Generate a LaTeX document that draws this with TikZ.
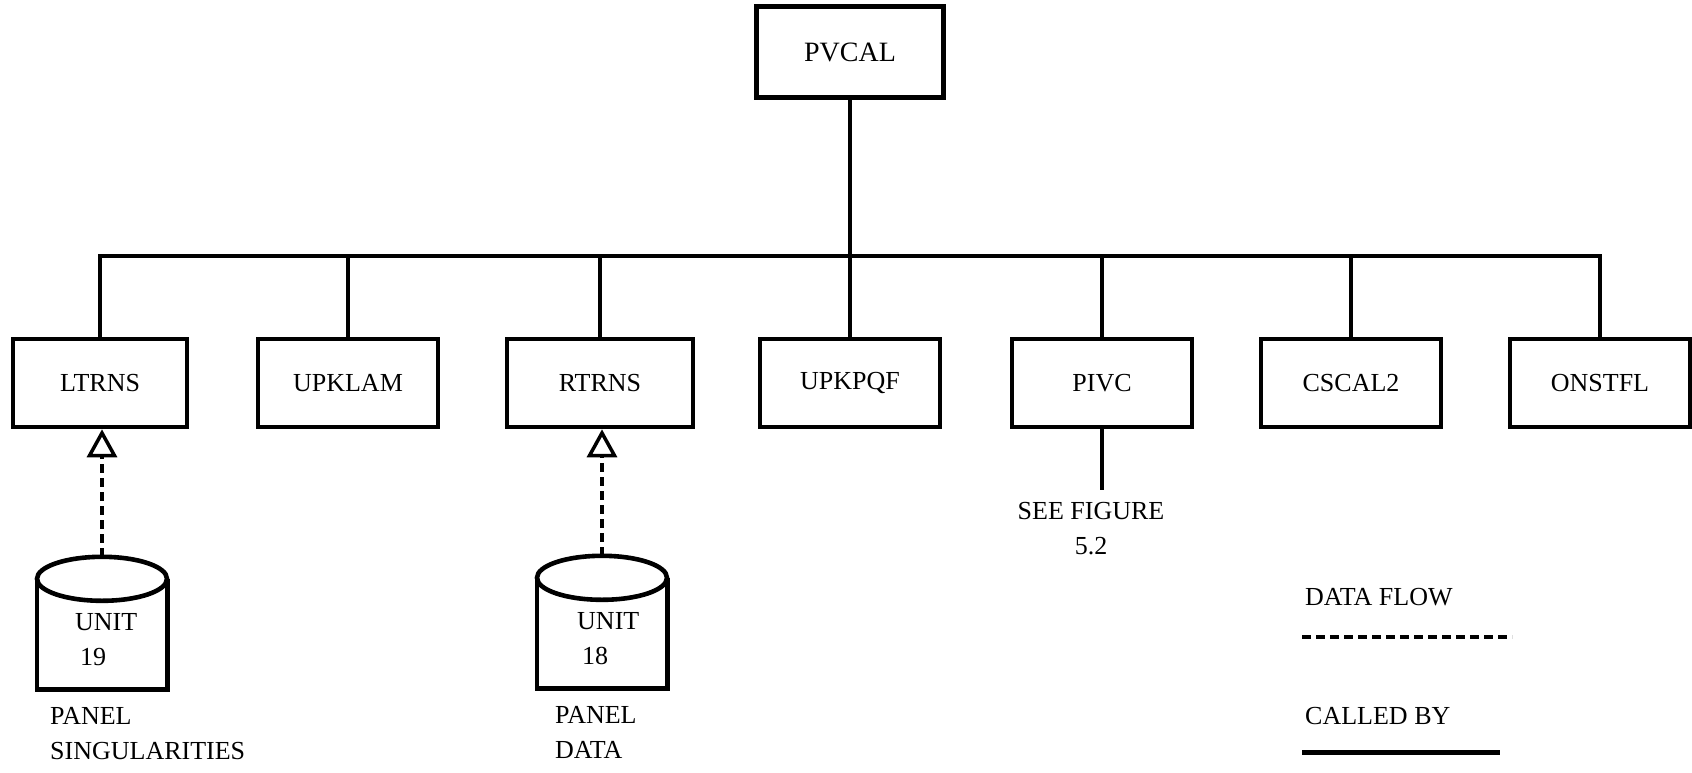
\documentclass[tikz,border=0pt]{standalone}
\usepackage{fontspec}
\setmainfont{Liberation Serif}
\usetikzlibrary{arrows.meta,calc}
\begin{document}
\begin{tikzpicture}[x=1pt,y=-1pt,
  font=\fontsize{26}{35}\selectfont,
  modbox/.style={draw,line width=4.6pt,minimum width=180pt,minimum height=88pt,inner sep=0pt},
  call/.style={line width=4.6pt},
  flow/.style={line width=4pt,dash pattern=on 9pt off 5pt},
  flowtip/.style={-{Triangle[open,width=30pt,length=28pt,line width=3.5pt]}},
  cyl/.style={minimum width=130pt,minimum height=132pt,inner sep=0pt},
  cylline/.style={line width=4.6pt},
  lbl/.style={inner sep=0pt,align=left,anchor=north west}]
\useasboundingbox (0,0) rectangle (1692,773);
% modules
\node[modbox,minimum width=187pt,minimum height=91pt,font=\fontsize{28}{34}\selectfont] (pvcal) at (850,52) {PVCAL};
\node[modbox,minimum width=174pt] (ltrns) at (100,383) {LTRNS};
\node[modbox] (upklam) at (348,383) {UPKLAM};
\node[modbox,minimum width=186pt] (rtrns) at (600,383) {RTRNS};
\node[modbox] (upkpqf) at (850,383) {UPKPQF};
\node[modbox] (pivc) at (1102,383) {PIVC};
\node[modbox] (cscal) at (1351,383) {CSCAL2};
\node[modbox] (onstfl) at (1600,383) {ONSTFL};
% call tree
\coordinate (bus) at (850,256);
\draw[call] (pvcal.south) -- (upkpqf.north);
\draw[call] (ltrns.north) |- (bus) -| (onstfl.north);
\draw[call] (upklam.north) -- (upklam.north |- bus);
\draw[call] (rtrns.north) -- (rtrns.north |- bus);
\draw[call] (pivc.north) -- (pivc.north |- bus);
\draw[call] (cscal.north) -- (cscal.north |- bus);
% see figure
\coordinate (pivcend) at (1102,490);
\draw[call] (pivc.south) -- (pivcend);
\node[inner sep=0pt,align=center,anchor=north] (seefig) at (1091,502) {SEE FIGURE\\5.2};
% data units
\node[cyl] (u19) at (102,623) {};
\draw[cylline] ([yshift=-22pt]u19.north west) -- (u19.south west) -- (u19.south east) -- ([yshift=-22pt]u19.north east);
\draw[cylline] ([yshift=-22pt]u19.north) ellipse [x radius=65pt, y radius=22pt];
\node[lbl] (u19t) at (75,613) {UNIT\\\hspace{5pt}19};
\node[cyl] (u18) at (602,622) {};
\draw[cylline] ([yshift=-22pt]u18.north west) -- (u18.south west) -- (u18.south east) -- ([yshift=-22pt]u18.north east);
\draw[cylline] ([yshift=-22pt]u18.north) ellipse [x radius=65pt, y radius=22pt];
\node[lbl] (u18t) at (577,612) {UNIT\\\hspace{5pt}18};
\draw[flow,flowtip] (u19.north) -- (u19.north |- ltrns.south);
\draw[flow,flowtip] (u18.north) -- (u18.north |- rtrns.south);
\node[lbl] (psing) at (50,707) {PANEL\\SINGULARITIES};
\node[lbl] (pdata) at (555,706) {PANEL\\DATA};
% legend
\node[lbl] (dflow) at (1305,588) {DATA FLOW};
\coordinate (df1) at (1302,637);
\coordinate (df2) at (1512,637);
\draw[flow] (df1) -- (df2);
\node[lbl] (calledby) at (1305,707) {CALLED BY};
\coordinate (cb1) at (1302,752);
\coordinate (cb2) at (1500,752);
\draw[line width=5pt] (cb1) -- (cb2);
\end{tikzpicture}
\end{document}
